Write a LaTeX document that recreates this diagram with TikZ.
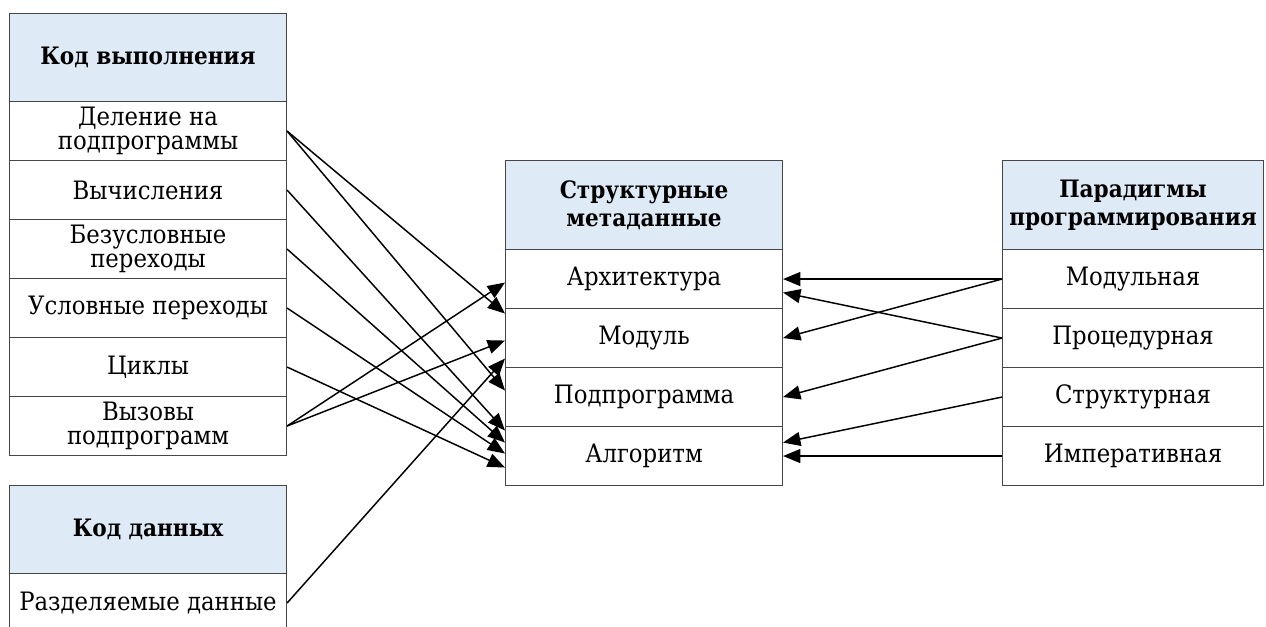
\documentclass[tikz,border=0pt]{standalone}
\usepackage{fontspec}
\setmainfont{DejaVu Serif Condensed}
\usetikzlibrary{arrows.meta,calc}
\definecolor{hdrfill}{RGB}{222,234,246}
\definecolor{edgegray}{RGB}{70,70,70}
\begin{document}
\begin{tikzpicture}[x=0.75pt,y=-0.75pt,
  cell/.style={draw=edgegray, line width=0.8pt, fill=white, inner sep=0pt,
    anchor=north west, align=center,
    font=\fontsize{19}{18}\selectfont, minimum height=44.25pt},
  hdr/.style={cell, fill=hdrfill, minimum height=66pt,
    font=\fontsize{18}{21}\selectfont\bfseries},
  wide/.style={minimum width=207.75pt},
  narrow/.style={minimum width=195.75pt},
  conn/.style={line width=1.1pt, -{Triangle[length=13pt,width=10.5pt]}}]
\useasboundingbox (0,0) rectangle (1266,626);

% execution code column
\node[hdr, wide]  (kv)  at (9,13)  {Код выполнения};
\node[cell, wide] (lc1) at (9,101) {Деление на\\подпрограммы};
\node[cell, wide] (lc2) at (9,160) {Вычисления};
\node[cell, wide] (lc3) at (9,219) {Безусловные\\переходы};
\node[cell, wide] (lc4) at (9,278) {Условные переходы};
\node[cell, wide] (lc5) at (9,337) {Циклы};
\node[cell, wide] (lc6) at (9,396) {Вызовы\\подпрограмм};

% data code column
\node[hdr, wide]  (kd)  at (9,485) {Код данных};
\node[cell, wide] (shd) at (9,573) {Разделяемые данные};

% structural metadata column
\node[hdr, wide, minimum height=66.75pt] (sm) at (505,160) {Структурные\\метаданные};
\node[cell, wide] (march) at (505,249) {Архитектура};
\node[cell, wide] (mmod)  at (505,308) {Модуль};
\node[cell, wide] (msub)  at (505,367) {Подпрограмма};
\node[cell, wide] (malg)  at (505,426) {Алгоритм};

% programming paradigms column
\node[hdr, narrow, minimum height=66.75pt] (pp) at (1002,160) {Парадигмы\\программирования};
\node[cell, narrow] (rmod)  at (1002,249) {Модульная};
\node[cell, narrow] (rproc) at (1002,308) {Процедурная};
\node[cell, narrow] (rstr)  at (1002,367) {Структурная};
\node[cell, narrow] (rimp)  at (1002,426) {Императивная};

% left-hand connectors
\draw[conn] (lc1.east) -- ($(mmod.west)+(0,-24.5)$);
\draw[conn] (lc1.east) -- ($(msub.west)+(0,-6.5)$);
\draw[conn] (lc2.east) -- ($(malg.west)+(0,-25.5)$);
\draw[conn] (lc3.east) -- ($(malg.west)+(0,-13.5)$);
\draw[conn] (lc4.east) -- ($(malg.west)+(0,-2.5)$);
\draw[conn] (lc5.east) -- ($(malg.west)+(0,11.5)$);
\draw[conn] (lc6.east) -- ($(march.west)+(0,3.5)$);
\draw[conn] (lc6.east) -- ($(mmod.west)+(0,2.5)$);
\draw[conn] (shd.east) -- ($(mmod.west)+(0,20.5)$);

% right-hand connectors
\draw[conn] (rmod.west)  -- (march.east);
\draw[conn] (rmod.west)  -- (mmod.east);
\draw[conn] (rproc.west) -- ($(march.east)+(0,13.5)$);
\draw[conn] (rproc.west) -- (msub.east);
\draw[conn] (rstr.west)  -- ($(malg.east)+(0,-13.5)$);
\draw[conn] (rimp.west)  -- (malg.east);
\end{tikzpicture}
\end{document}
